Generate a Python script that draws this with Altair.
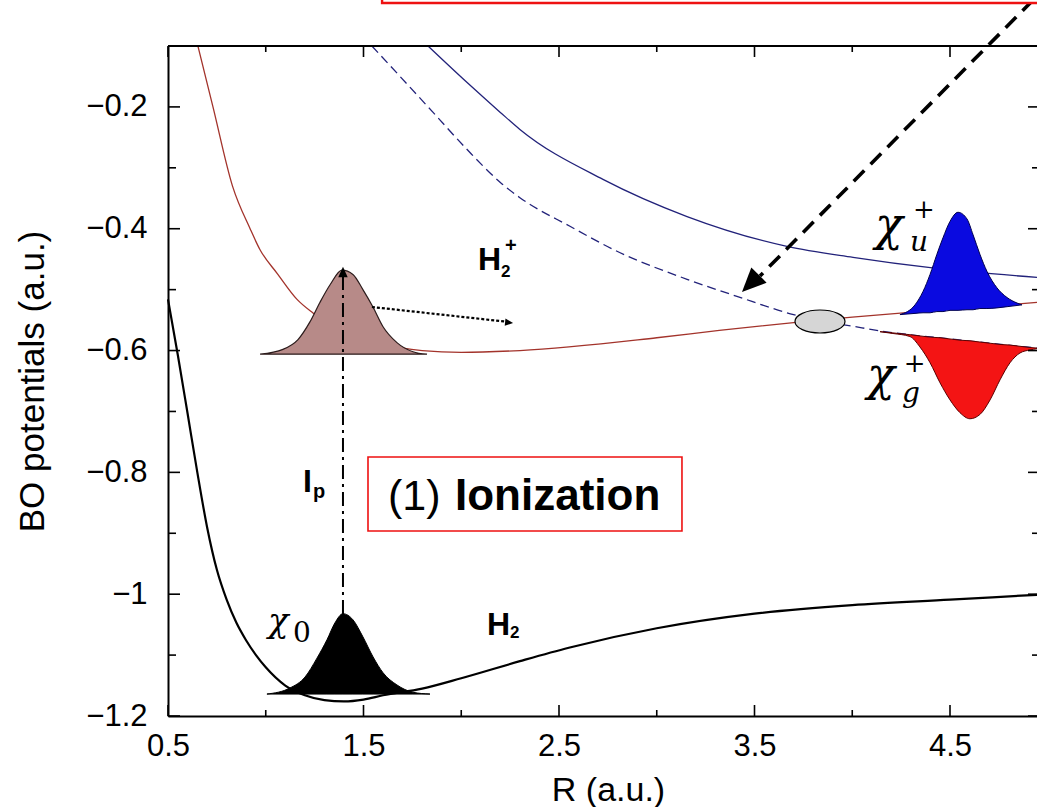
import altair as alt
import pandas as pd

# ---------------- data (R and V in a.u.) ----------------
# H2 ground-state potential
h2_R = [0.50, 0.55, 0.60, 0.65, 0.70, 0.75, 0.80, 0.85, 0.90, 0.95, 1.00, 1.10, 1.20, 1.30,
        1.40, 1.50, 1.60, 1.80, 2.00, 2.30, 2.55, 3.00, 3.50, 4.00, 4.50, 4.945]
h2_V = [-0.516, -0.607, -0.703, -0.800, -0.890, -0.960, -1.009, -1.047, -1.076, -1.100, -1.120,
        -1.150, -1.166, -1.174, -1.176, -1.173, -1.166, -1.155, -1.138, -1.110, -1.088, -1.056,
        -1.032, -1.018, -1.009, -1.001]

# H2+ sigma_g (red)
sg_R = [0.653, 0.73, 0.83, 0.92, 0.97, 1.06, 1.16, 1.24, 1.40, 1.60, 1.80, 2.00, 2.30, 3.00,
        3.32, 3.70, 4.00, 4.50, 4.945]
sg_V = [-0.100, -0.200, -0.330, -0.400, -0.434, -0.474, -0.516, -0.538, -0.570, -0.590, -0.600,
        -0.603, -0.600, -0.579, -0.567, -0.554, -0.545, -0.532, -0.521]

# H2+ sigma_u (blue, solid)
su_R = [1.83, 2.03, 2.20, 2.30, 2.725, 3.155, 3.666, 4.004, 4.40, 4.945]
su_V = [-0.100, -0.160, -0.209, -0.237, -0.319, -0.380, -0.429, -0.447, -0.464, -0.480]

# sigma_u shifted by one photon (blue, dashed)
sd_R = [1.543, 1.687, 1.856, 2.03, 2.20, 2.30, 2.556, 2.81, 3.155, 3.41, 3.70, 3.85, 4.00,
        4.15, 4.50, 4.945]
sd_V = [-0.100, -0.150, -0.209, -0.270, -0.324, -0.349, -0.396, -0.439, -0.483, -0.511, -0.541,
        -0.552, -0.560, -0.568, -0.581, -0.596]

# wave packets
br_R = [0.971, 1.088, 1.165, 1.226, 1.277, 1.329, 1.390, 1.446, 1.497, 1.549, 1.600, 1.671,
        1.753, 1.825]
br_V = [-0.606, -0.598, -0.582, -0.553, -0.521, -0.492, -0.468, -0.475, -0.500, -0.529, -0.561,
        -0.587, -0.602, -0.606]
br_base = -0.606

bk_R = [1.006, 1.124, 1.201, 1.262, 1.313, 1.354, 1.395, 1.446, 1.497, 1.549, 1.600, 1.671,
        1.753, 1.840]
bk_V = [-1.164, -1.154, -1.136, -1.105, -1.075, -1.047, -1.032, -1.042, -1.070, -1.103, -1.129,
        -1.149, -1.161, -1.164]
bk_base = -1.164

bl_R = [4.244, 4.321, 4.362, 4.398, 4.433, 4.464, 4.500, 4.541, 4.587, 4.618, 4.653, 4.689,
        4.740, 4.792, 4.843, 4.868]
bl_top = [-0.541, -0.525, -0.503, -0.475, -0.442, -0.415, -0.388, -0.373, -0.384, -0.410, -0.442,
          -0.470, -0.497, -0.513, -0.522, -0.525]
bl_base = [-0.541, -0.539, -0.538, -0.538, -0.536, -0.536, -0.534, -0.534, -0.533, -0.533, -0.531,
           -0.531, -0.530, -0.528, -0.526, -0.525]

rd_R = [4.142, 4.208, 4.295, 4.346, 4.398, 4.449, 4.500, 4.551, 4.602, 4.653, 4.705, 4.756,
        4.807, 4.858, 4.909, 4.945]
rd_top = [-0.569, -0.571, -0.574, -0.576, -0.578, -0.579, -0.581, -0.583, -0.584, -0.586, -0.588,
          -0.590, -0.591, -0.593, -0.595, -0.596]
rd_bot = [-0.569, -0.572, -0.577, -0.594, -0.620, -0.653, -0.681, -0.702, -0.712, -0.705, -0.681,
          -0.648, -0.620, -0.604, -0.599, -0.597]

# axis ticks
x_major = [0.5, 1.5, 2.5, 3.5, 4.5]
x_minor = [1.0, 2.0, 3.0, 4.0]
y_major = [-1.2, -1.0, -0.8, -0.6, -0.4, -0.2]
y_minor = [-1.1, -0.9, -0.7, -0.5, -0.3]

# annotation anchors (data coordinates)
big_arrow = {"R": [4.925], "V": [-0.0245], "R2": [3.528], "V2": [-0.4776]}
big_tip = {"R": [3.436], "V": [-0.5039]}
ip_arrow = {"R": [1.395], "V": [-1.0325], "V2": [-0.471]}
ip_tip = {"R": [1.395], "V": [-0.4625]}
dot_arrow = {"R": [1.543], "V": [-0.5285], "R2": [2.255], "V2": [-0.5535]}
dot_tip = {"R": [2.265], "V": [-0.5548]}
crossing = {"R": [3.835], "V": [-0.5523]}
ion_box = {"R": [1.523], "R2": [3.129], "V": [-0.7748], "V2": [-0.8963]}
top_box = {"R": [1.595], "R2": [5.3], "V": [-0.0294], "V2": [0.2]}

SANS = "Liberation Sans"
SERIF = "DejaVu Serif"
W, H = 869, 670
XS = alt.Scale(domain=[0.5, 4.945], nice=False, zero=False)
YS = alt.Scale(domain=[-1.2, -0.1], nice=False, zero=False)

X_AXIS = alt.Axis(values=x_major, format=".2~g", title="R (a.u.)", grid=False, ticks=False,
                  tickSize=0, labelPadding=39, labelBaseline="alphabetic", labelFlush=False,
                  labelOverlap=False, labelFont=SANS, labelFontSize=31, labelColor="black",
                  titleFont=SANS, titleFontSize=34, titleFontWeight="normal", titleColor="black",
                  titleX=440, titleY=84, titleAlign="center", titleBaseline="alphabetic",
                  domainColor="black", domainWidth=2)
Y_AXIS = alt.Axis(values=y_major, format=".2~g", title="BO potentials (a.u.)", grid=False,
                  ticks=False, tickSize=0, labelPadding=21, labelFlush=False, labelOverlap=False,
                  labelFont=SANS, labelFontSize=31, labelColor="black", titleFont=SANS,
                  titleFontSize=35, titleFontWeight="normal", titleColor="black", titleAngle=270,
                  titleX=-125, titleY=335, titleAlign="center", titleBaseline="alphabetic",
                  domainColor="black", domainWidth=2)


def xq(f="R"):
    return alt.X(f"{f}:Q", scale=XS, axis=X_AXIS)


def yq(f="V"):
    return alt.Y(f"{f}:Q", scale=YS, axis=Y_AXIS)


layers = []

layers.append(alt.Chart(pd.DataFrame({"R": h2_R, "V": h2_V})).mark_line(
    color="black", strokeWidth=2.2, interpolate="monotone").encode(x=xq(), y=yq()))
layers.append(alt.Chart(pd.DataFrame({"R": sg_R, "V": sg_V})).mark_line(
    color="#a3332b", strokeWidth=1.3, interpolate="monotone").encode(x=xq(), y=yq()))
layers.append(alt.Chart(pd.DataFrame({"R": su_R, "V": su_V})).mark_line(
    color="#22227a", strokeWidth=1.3, interpolate="monotone").encode(x=xq(), y=yq()))
layers.append(alt.Chart(pd.DataFrame({"R": sd_R, "V": sd_V})).mark_line(
    color="#22227a", strokeWidth=1.3, strokeDash=[9, 5], interpolate="monotone").encode(
    x=xq(), y=yq()))

# wave packets
layers.append(alt.Chart(pd.DataFrame({"R": br_R, "V": br_V})).mark_area(
    color="#b78a88", stroke="#2b1b1b", strokeWidth=1.2, interpolate="monotone", opacity=1).encode(
    x=xq(), y=yq(), y2=alt.datum(br_base)))
layers.append(alt.Chart(pd.DataFrame({"R": bk_R, "V": bk_V})).mark_area(
    color="black", stroke="black", strokeWidth=1, interpolate="monotone", opacity=1).encode(
    x=xq(), y=yq(), y2=alt.datum(bk_base)))
layers.append(alt.Chart(pd.DataFrame({"R": bl_R, "T": bl_top, "B": bl_base})).mark_area(
    color="#0a0ae0", stroke="#000050", strokeWidth=1, interpolate="monotone", opacity=1).encode(
    x=xq(), y=yq("T"), y2="B:Q"))
layers.append(alt.Chart(pd.DataFrame({"R": rd_R, "T": rd_top, "B": rd_bot})).mark_area(
    color="#f41414", stroke="#5a0000", strokeWidth=1, interpolate="monotone", opacity=1).encode(
    x=xq(), y=yq("T"), y2="B:Q"))

# crossing marker
layers.append(alt.Chart(pd.DataFrame(crossing)).mark_point(
    shape="M-1,0A1,0.46,0,1,1,1,0A1,0.46,0,1,1,-1,0Z", size=2500, filled=True,
    fill="#d6d6d6", stroke="black", strokeWidth=1.2, opacity=1).encode(x=xq(), y=yq()))

ARROW = "M0,0L-0.9,2L0.9,2Z"
layers.append(alt.Chart(pd.DataFrame(dot_arrow)).mark_rule(
    color="black", strokeWidth=2.2, strokeDash=[3, 2]).encode(
    x=xq(), y=yq(), x2="R2:Q", y2="V2:Q"))
layers.append(alt.Chart(pd.DataFrame(dot_tip)).mark_point(
    shape=ARROW, size=64, angle=96, filled=True, color="black", opacity=1).encode(
    x=xq(), y=yq()))
layers.append(alt.Chart(pd.DataFrame(ip_arrow)).mark_rule(
    color="black", strokeWidth=2, strokeDash=[14, 5, 3, 5]).encode(
    x=xq(), y=yq(), y2="V2:Q"))
layers.append(alt.Chart(pd.DataFrame(ip_tip)).mark_point(
    shape=ARROW, size=110, angle=0, filled=True, color="black", opacity=1).encode(
    x=xq(), y=yq()))
layers.append(alt.Chart(pd.DataFrame(big_arrow)).mark_rule(
    color="black", strokeWidth=3.6, strokeDash=[15, 9]).encode(
    x=xq(), y=yq(), x2="R2:Q", y2="V2:Q"))
layers.append(alt.Chart(pd.DataFrame(big_tip)).mark_point(
    shape=ARROW, size=576, angle=225, filled=True, color="black", opacity=1).encode(
    x=xq(), y=yq()))

# boxes
layers.append(alt.Chart(pd.DataFrame(ion_box)).mark_rect(
    fill="white", stroke="#ee1111", strokeWidth=1.6).encode(
    x=xq(), x2="R2:Q", y=yq(), y2="V2:Q"))
layers.append(alt.Chart(pd.DataFrame(top_box)).mark_rect(
    fill="white", stroke="#ee1111", strokeWidth=2.4).encode(
    x=xq(), x2="R2:Q", y=yq(), y2="V2:Q"))


def text_layer(texts, rs, vs, size, weight="normal", font=SANS, style="normal"):
    d = pd.DataFrame({"t": texts, "R": rs, "V": vs})
    return alt.Chart(d).mark_text(
        align="left", baseline="alphabetic", font=font, fontSize=size, fontWeight=weight,
        fontStyle=style, color="black").encode(x=xq(), y=yq(), text="t:N")


layers.append(text_layer(["(1)"], [1.625], [-0.8615], 43))
layers.append(text_layer(["Ionization"], [1.968], [-0.8615], 44, "bold"))
layers.append(text_layer(["I", "H", "H"], [1.19, 2.086, 2.132], [-0.832, -0.467, -1.067], 32, "bold"))
layers.append(text_layer(["p"], [1.242], [-0.842], 20, "bold"))
layers.append(text_layer(["2", "2"], [2.203, 2.249], [-0.480, -1.072], 17, "bold"))
layers.append(text_layer(["+"], [2.224], [-0.439], 20, "bold"))
layers.append(text_layer(["χ", "χ"], [4.116, 4.075], [-0.4185, -0.665], 46, font=SERIF, style="italic"))
layers.append(text_layer(["χ"], [1.011], [-1.062], 34, font=SERIF, style="italic"))
layers.append(text_layer(["u", "g"], [4.295, 4.254], [-0.437, -0.685], 28, font=SERIF, style="italic"))
layers.append(text_layer(["+", "+"], [4.311, 4.264], [-0.382, -0.635], 26, font=SERIF))
layers.append(text_layer(["0"], [1.139], [-1.078], 28, font=SERIF))

# frame: top border and inward ticks
layers.append(alt.Chart(pd.DataFrame({"a": [0]})).mark_rule(color="black", strokeWidth=2).encode(
    x=alt.value(0), x2=alt.value(W), y=alt.value(0)))
maj_x = pd.DataFrame({"R": x_major})
min_x = pd.DataFrame({"R": x_minor})
maj_y = pd.DataFrame({"V": y_major})
min_y = pd.DataFrame({"V": y_minor})
for dfx, ln in ((maj_x, 11), (min_x, 6)):
    layers.append(alt.Chart(dfx).mark_rule(color="black", strokeWidth=1.6).encode(
        x=xq(), y=alt.value(H), y2=alt.value(H - ln)))
    layers.append(alt.Chart(dfx).mark_rule(color="black", strokeWidth=1.6).encode(
        x=xq(), y=alt.value(0), y2=alt.value(ln)))
for dfy, ln in ((maj_y, 12), (min_y, 8)):
    layers.append(alt.Chart(dfy).mark_rule(color="black", strokeWidth=1.6).encode(
        y=yq(), x=alt.value(0), x2=alt.value(ln)))
    layers.append(alt.Chart(dfy).mark_rule(color="black", strokeWidth=1.6).encode(
        y=yq(), x=alt.value(W + 3), x2=alt.value(W + 3 - ln)))

chart = alt.layer(*layers).properties(
    width=W, height=H,
    autosize=alt.AutoSizeParams(type="none"),
    padding={"left": 168, "top": 46, "right": 0, "bottom": 91},
    background="white",
).configure_view(stroke=None)

chart.save("out.html", embed_options={"renderer": "svg", "actions": False})
